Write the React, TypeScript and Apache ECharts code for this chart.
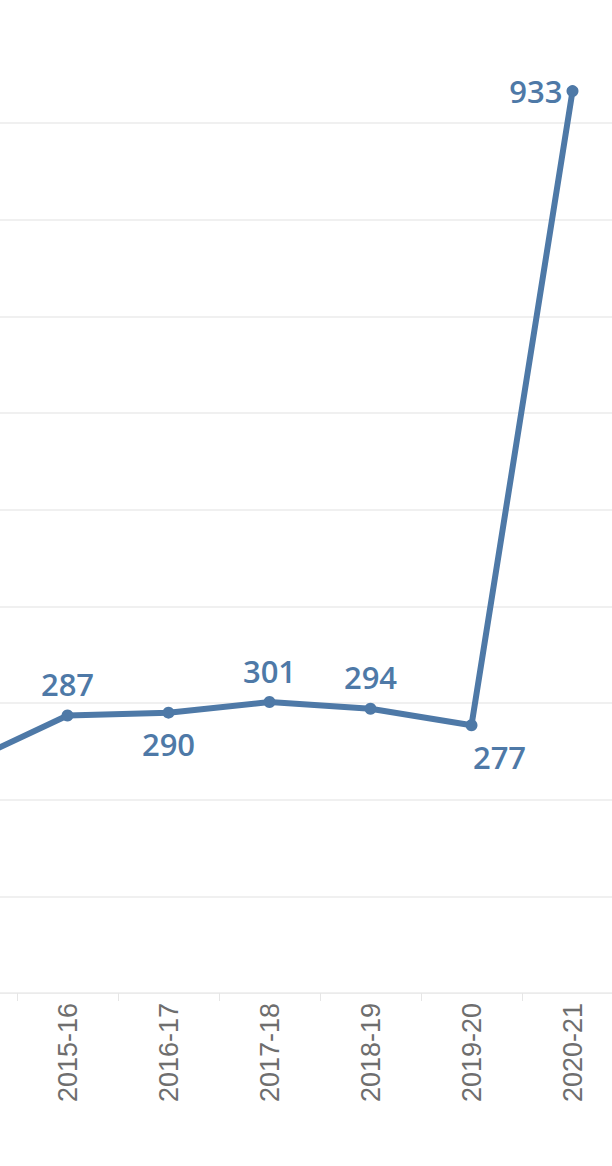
import React, { useEffect, useRef } from "react";
import * as echarts from "echarts";

const categories = ["2014-15", "2015-16", "2016-17", "2017-18", "2018-19", "2019-20", "2020-21"];
const values = [238, 287, 290, 301, 294, 277, 933];
const labelPositions = ["top", "top", "bottom", "top", "top", "bottom", "left"];
// the first category lies outside the visible crop, so its texts are not shown
const visibleFrom = 1;

const BLUE = "#4e79a7";

export default function App() {
  const ref = useRef<HTMLDivElement>(null);
  useEffect(() => {
    if (!ref.current) return;
    const chart = echarts.init(ref.current, undefined, { renderer: "svg" });
    chart.setOption({
      animation: false,
      grid: { left: 100, right: 0, top: 65, bottom: 173, containLabel: false },
      xAxis: {
        type: "category",
        data: categories,
        boundaryGap: true,
        axisLine: { show: true, lineStyle: { color: "#ebebeb", width: 1 } },
        axisTick: { show: true, length: 8, lineStyle: { color: "#e6e6e6" } },
        axisLabel: {
          rotate: 90,
          margin: 10,
          color: "#6e6e6e",
          fontSize: 27,
          fontFamily: "Liberation Sans, Arial, sans-serif",
          interval: (i: number) => i >= visibleFrom,
        },
      },
      yAxis: {
        type: "value",
        min: 0,
        max: 960,
        interval: 100,
        axisLine: { show: false },
        axisTick: { show: false },
        axisLabel: { show: false },
        splitLine: { show: true, showMaxLine: false, lineStyle: { color: "#ebebeb", width: 1.5 } },
      },
      series: [
        {
          type: "line",
          data: values.map((v, i) => ({
            value: v,
            label: {
              show: i >= visibleFrom,
              position: labelPositions[i],
              offset: i === 5 ? [28, 0] : [0, 0],
              distance: labelPositions[i] === "left" ? 4 : 10,
            },
          })),
          symbol: "circle",
          symbolSize: 12,
          showAllSymbol: true,
          lineStyle: { color: BLUE, width: 6 },
          itemStyle: { color: BLUE },
          label: {
            show: true,
            distance: 10,
            color: BLUE,
            fontSize: 31,
            fontWeight: 600,
            fontFamily: "'Open Sans', sans-serif",
          },
          clip: false,
        },
      ],
    });
    return () => chart.dispose();
  }, []);
  return (
    <div style={{ position: "fixed", left: 0, top: 0, width: 612, height: 1166, overflow: "hidden", background: "#fff" }}>
      <div ref={ref} style={{ position: "absolute", left: -184, top: 0, width: 807, height: 1166 }} />
    </div>
  );
}
